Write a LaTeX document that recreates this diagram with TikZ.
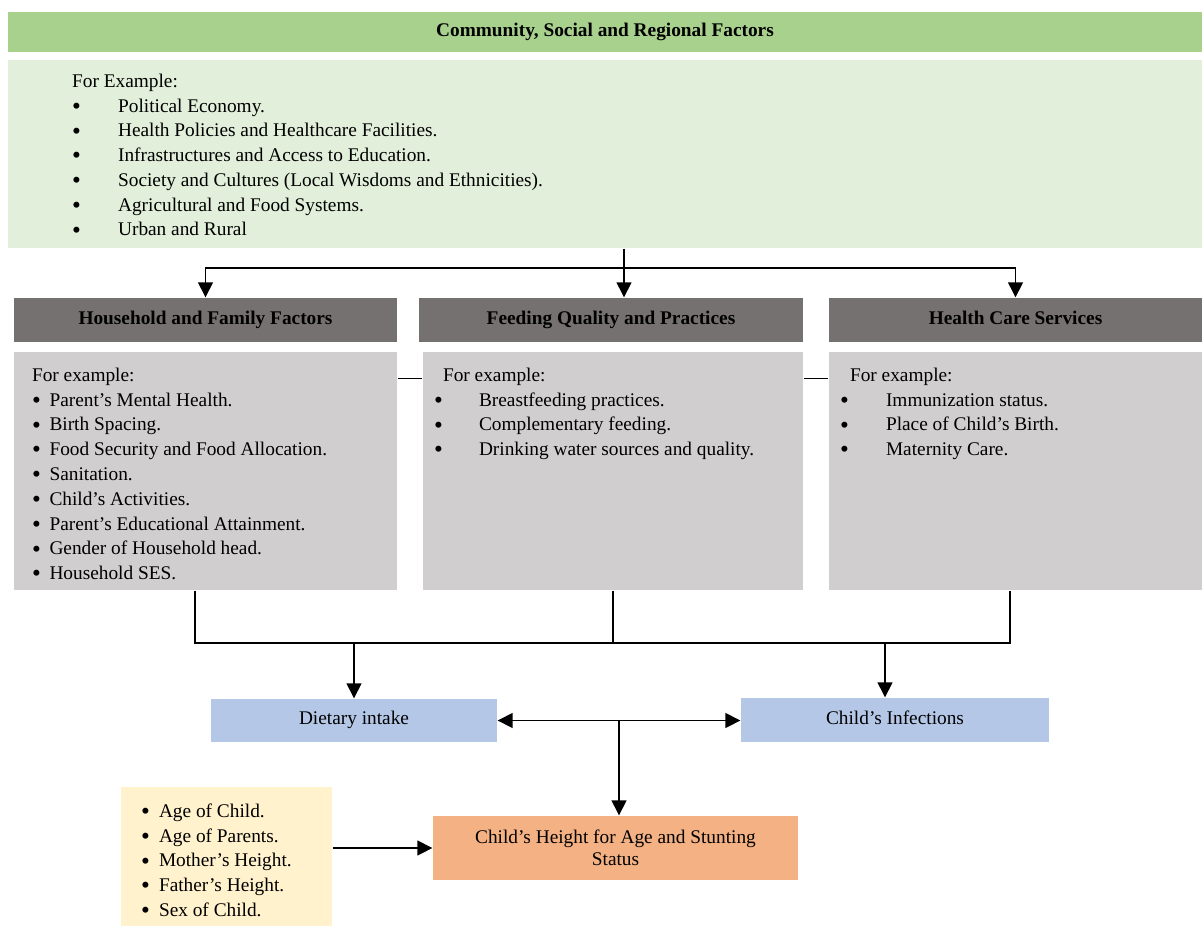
\documentclass[tikz,border=0pt]{standalone}
\usepackage{fontspec}
\setmainfont{Liberation Serif}
\usetikzlibrary{arrows.meta,calc,positioning}

\definecolor{cmtyhd}{HTML}{A9D18E}
\definecolor{cmtybg}{HTML}{E2EFDA}
\definecolor{hdgray}{HTML}{767171}
\definecolor{bdgray}{HTML}{D0CECE}
\definecolor{outblue}{HTML}{B4C7E7}
\definecolor{stuntor}{HTML}{F4B183}
\definecolor{fixyel}{HTML}{FFF2CC}

\newcommand{\bul}[1]{\makebox[#1][l]{\raisebox{-0.25ex}{\scalebox{1.3}{\textbullet}}}}

\begin{document}
\begin{tikzpicture}[
  x=0.02cm, y=-0.02cm,
  >={Triangle[length=0.3cm,width=0.3cm]},
  line width=0.8pt,
  box/.style={rectangle, inner sep=0pt},
  hd/.style={box, fill=hdgray, minimum height=0.88cm, text height=1.6ex, text depth=0.5ex,
             font=\fontsize{11}{14}\selectfont\bfseries},
  bd/.style={box, fill=bdgray, minimum height=4.76cm},
  lst/.style={anchor=north west, inner sep=0pt, align=left, font=\fontsize{11}{14.1}\selectfont},
  lab/.style={font=\fontsize{11}{14}\selectfont, text height=1.6ex, text depth=0.5ex}
]
\useasboundingbox (0,0) rectangle (1202,926);

% --- community level
\node[box, fill=cmtyhd, minimum width=23.88cm, minimum height=0.8cm,
      font=\fontsize{11}{14}\selectfont\bfseries] (cmtyhd) at (605,32)
      {Community, Social and Regional Factors};
\node[box, fill=cmtybg, minimum width=23.88cm, minimum height=3.76cm] (cmty) at (605,154) {};
\node[lst] (cmtytxt) at ([shift={(64,10)}]cmty.north west)
  {\strut For Example:\\
   \bul{0.92cm}Political Economy.\\
   \bul{0.92cm}Health Policies and Healthcare Facilities.\\
   \bul{0.92cm}Infrastructures and Access to Education.\\
   \bul{0.92cm}Society and Cultures (Local Wisdoms and Ethnicities).\\
   \bul{0.92cm}Agricultural and Food Systems.\\
   \bul{0.92cm}Urban and Rural};

% --- the three factor groups
\node[hd, minimum width=7.66cm] (hhhd) at (205.5,320) {Household and Family Factors};
\node[hd, minimum width=7.68cm] (fdhd) at (611,320) {Feeding Quality and Practices};
\node[hd, minimum width=7.46cm] (hlhd) at (1015.5,320) {Health Care Services};

\node[bd, minimum width=7.66cm] (hhbd) at (205.5,471) {};
\node[bd, minimum width=7.6cm] (fdbd) at (613,471) {};
\node[bd, minimum width=7.46cm] (hlbd) at (1015.5,471) {};

\node[lst] (hhtxt) at ([shift={(18,12)}]hhbd.north west)
  {\strut For example:\\
   \bul{0.35cm}Parent's Mental Health.\\
   \bul{0.35cm}Birth Spacing.\\
   \bul{0.35cm}Food Security and Food Allocation.\\
   \bul{0.35cm}Sanitation.\\
   \bul{0.35cm}Child's Activities.\\
   \bul{0.35cm}Parent's Educational Attainment.\\
   \bul{0.35cm}Gender of Household head.\\
   \bul{0.35cm}Household SES.};
\node[lst] (fdtxt) at ([shift={(11,12)}]fdbd.north west)
  {\strut\hspace*{0.18cm}For example:\\
   \bul{0.9cm}Breastfeeding practices.\\
   \bul{0.9cm}Complementary feeding.\\
   \bul{0.9cm}Drinking water sources and quality.};
\node[lst] (hltxt) at ([shift={(11,12)}]hlbd.north west)
  {\strut\hspace*{0.2cm}For example:\\
   \bul{0.92cm}Immunization status.\\
   \bul{0.92cm}Place of Child's Birth.\\
   \bul{0.92cm}Maternity Care.};

% --- outcomes
\node[box, lab, fill=outblue, minimum width=5.72cm, minimum height=0.86cm] (diet) at (354,720.5) {Dietary intake};
\node[box, lab, fill=outblue, minimum width=6.16cm, minimum height=0.88cm] (inf) at (895,720) {Child's Infections};
\node[box, fill=stuntor, minimum width=7.3cm, minimum height=1.28cm, align=center,
      font=\fontsize{11}{12.5}\selectfont] (stunt) at (615.5,848)
      {Child's Height for Age and Stunting\\Status};
\node[box, fill=fixyel, minimum width=4.22cm, minimum height=2.78cm] (yel) at (226.5,856.5) {};
\node[lst] (yeltxt) at ([shift={(20,13)}]yel.north west)
  {\strut\bul{0.36cm}Age of Child.\\
   \bul{0.36cm}Age of Parents.\\
   \bul{0.36cm}Mother's Height.\\
   \bul{0.36cm}Father's Height.\\
   \bul{0.36cm}Sex of Child.};

% --- split from community box
\coordinate (split) at (624,268);
\draw[->] (cmty.south -| split) -- (fdhd.north -| split);
\draw[->] (split) -| (hhhd.north);
\draw[->] (split) -| (hlhd.north);

% --- short links between the body boxes
\draw ([yshift=-0.54cm]hhbd.north east) -- ([yshift=-0.54cm]fdbd.north west);
\draw ([yshift=-0.54cm]fdbd.north east) -- ([yshift=-0.54cm]hlbd.north west);

% --- bus under the factor groups
\coordinate (bus) at (614,643);
\draw ([xshift=-0.21cm]hhbd.south) |- ([xshift=-0.11cm]hlbd.south |- bus) -- ([xshift=-0.11cm]hlbd.south);
\draw (fdbd.south) -- (fdbd.south |- bus);
\draw[->] (diet.north |- bus) -- (diet.north);
\draw[->] ([xshift=-0.2cm]inf.north |- bus) -- ([xshift=-0.2cm]inf.north);

% --- outcomes to stunting
\draw[<->] (diet.east) -- (inf.west |- diet.east);
\draw[->] ([xshift=0.07cm]stunt.north |- diet.east) -- ([xshift=0.07cm]stunt.north);
\draw[->] (yel.east |- stunt.west) -- (stunt.west);

\end{tikzpicture}
\end{document}
